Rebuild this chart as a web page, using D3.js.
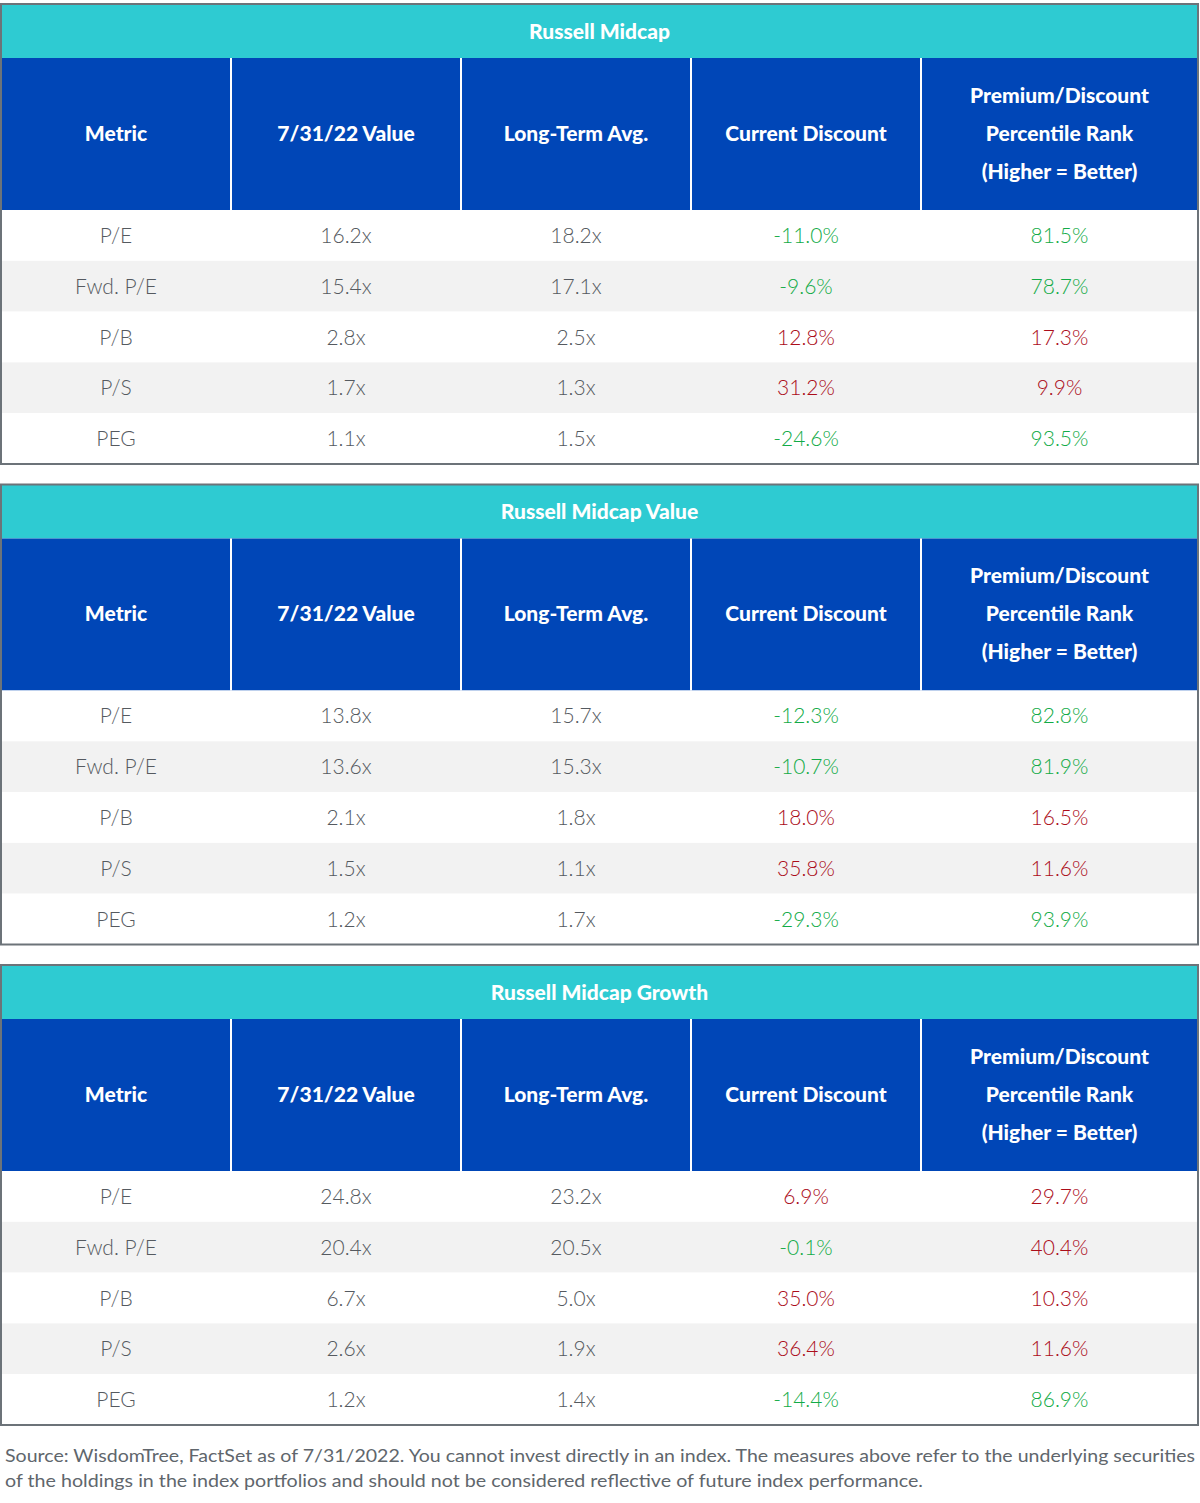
<!DOCTYPE html>
<html>
<head>
<meta charset="utf-8">
<title>Russell Midcap valuations</title>
<style>
  body { margin: 0; background: #fff; }
  svg { display: block; font-family: Lato, "Noto Sans", sans-serif; }
</style>
</head>
<body>
<script src="https://cdn.jsdelivr.net/npm/d3@7"></script>
<script>
  // data
  var tableTitles = ["Russell Midcap", "Russell Midcap Value", "Russell Midcap Growth"];
  var columns = ["Metric", "7/31/22 Value", "Long-Term Avg.", "Current Discount",
                 "Premium/Discount|Percentile Rank|(Higher = Better)"];
  var metrics = ["P/E", "Fwd. P/E", "P/B", "P/S", "PEG"];

  var midcapValue    = [16.2, 15.4, 2.8, 1.7, 1.1];
  var midcapAvg      = [18.2, 17.1, 2.5, 1.3, 1.5];
  var midcapDisc     = [-11.0, -9.6, 12.8, 31.2, -24.6];
  var midcapRank     = [81.5, 78.7, 17.3, 9.9, 93.5];

  var valueValue     = [13.8, 13.6, 2.1, 1.5, 1.2];
  var valueAvg       = [15.7, 15.3, 1.8, 1.1, 1.7];
  var valueDisc      = [-12.3, -10.7, 18.0, 35.8, -29.3];
  var valueRank      = [82.8, 81.9, 16.5, 11.6, 93.9];

  var growthValue    = [24.8, 20.4, 6.7, 2.6, 1.2];
  var growthAvg      = [23.2, 20.5, 5.0, 1.9, 1.4];
  var growthDisc     = [6.9, -0.1, 35.0, 36.4, -14.4];
  var growthRank     = [29.7, 40.4, 10.3, 11.6, 86.9];

  var footnote = [
    "Source: WisdomTree, FactSet as of 7/31/2022. You cannot invest directly in an index.  The measures above refer to the underlying securities",
    "of the holdings in the index portfolios and should not be considered reflective of future index performance."
  ];

  var tables = [
    { title: tableTitles[0], value: midcapValue, avg: midcapAvg, disc: midcapDisc, rank: midcapRank },
    { title: tableTitles[1], value: valueValue,  avg: valueAvg,  disc: valueDisc,  rank: valueRank },
    { title: tableTitles[2], value: growthValue, avg: growthAvg, disc: growthDisc, rank: growthRank }
  ];

  // layout
  var width = 1200, height = 1503;
  var left = 1, right = 1198;
  var titleH = 54, headH = 152, rowH = 50.8;
  var tableH = titleH + headH + rowH * metrics.length;
  var teal = "#2ecbd2", blue = "#0046b7", stripe = "#f2f2f2",
      textGray = "#555a60", green = "#12ab47", red = "#ab0d1a", border = "#6c7379";

  var svg = d3.select("body").append("svg")
      .attr("width", width)
      .attr("height", height);

  // column edges
  var colEdges = [left, 231, 461, 691, 921, right];
  var colX = d3.scaleOrdinal().domain(d3.range(5)).range(colEdges.slice(0, 5));
  var colW = function(i) { return colEdges[i + 1] - colEdges[i]; };
  var colMid = function(i) { return colX(i) + colW(i) / 2; };

  var tableY = d3.scaleLinear().domain([0, 2]).range([4, 965]);
  var rowY = d3.scaleBand().domain(d3.range(metrics.length)).range([titleH + headH, tableH]);

  function fmtX(v) { return v.toFixed(1) + "x"; }
  function fmtP(v) { return v.toFixed(1) + "%"; }

  var g = svg.selectAll("g.table")
      .data(tables)
      .enter()
      .append("g")
      .attr("class", "table")
      .attr("transform", function(d, i) { return "translate(0," + tableY(i) + ")"; });

  // title bar
  g.append("rect")
      .attr("x", left).attr("y", 0)
      .attr("width", right - left).attr("height", titleH)
      .attr("fill", teal);
  g.append("text")
      .attr("x", (left + right) / 2)
      .attr("y", titleH / 2 - 1)
      .attr("text-anchor", "middle")
      .attr("dominant-baseline", "central")
      .attr("fill", "#fff")
      .attr("font-weight", 900)
      .attr("font-size", 21)
      .text(function(d) { return d.title; });

  // header
  g.append("rect")
      .attr("x", left).attr("y", titleH)
      .attr("width", right - left).attr("height", headH)
      .attr("fill", blue);

  g.each(function(t) {
    var tg = d3.select(this);

    // row stripes
    tg.selectAll("rect.row")
        .data(metrics)
        .enter()
        .append("rect")
        .attr("class", "row")
        .attr("x", left)
        .attr("y", function(d, i) { return rowY(i); })
        .attr("width", right - left)
        .attr("height", rowY.bandwidth())
        .attr("fill", function(d, i) { return i % 2 ? stripe : "#fff"; });

    // header dividers
    tg.selectAll("line.div")
        .data(colEdges.slice(1, 5))
        .enter()
        .append("line")
        .attr("class", "div")
        .attr("x1", function(d) { return d; })
        .attr("x2", function(d) { return d; })
        .attr("y1", titleH)
        .attr("y2", titleH + headH)
        .attr("stroke", "#fff")
        .attr("stroke-width", 2);

    // header labels
    columns.forEach(function(c, i) {
      var lines = c.split("|");
      var txt = tg.append("text")
          .attr("text-anchor", "middle")
          .attr("fill", "#fff")
          .attr("font-weight", 900)
          .attr("font-size", 21);
      lines.forEach(function(l, k) {
        txt.append("tspan")
            .attr("x", colMid(i))
            .attr("y", titleH + headH / 2 - 2 + (k - (lines.length - 1) / 2) * 38)
            .attr("dominant-baseline", "central")
            .text(l);
      });
    });

    // cells
    var rows = metrics.map(function(m, i) {
      return [
        { text: m, color: textGray },
        { text: fmtX(t.value[i]), color: textGray },
        { text: fmtX(t.avg[i]), color: textGray },
        { text: fmtP(t.disc[i]), color: t.disc[i] < 0 ? green : red },
        { text: fmtP(t.rank[i]), color: t.rank[i] >= 50 ? green : red }
      ];
    });

    var rg = tg.selectAll("g.r")
        .data(rows)
        .enter()
        .append("g")
        .attr("class", "r")
        .attr("transform", function(d, i) { return "translate(0," + (rowY(i) + rowY.bandwidth() / 2) + ")"; });

    rg.selectAll("text")
        .data(function(d) { return d; })
        .enter()
        .append("text")
        .attr("x", function(d, i) { return colMid(i); })
        .attr("y", -1)
        .attr("text-anchor", "middle")
        .attr("dominant-baseline", "central")
        .attr("font-size", 21)
        .attr("font-weight", 300)
        .attr("fill", function(d) { return d.color; })
        .text(function(d) { return d.text; });

    // outer border
    tg.append("rect")
        .attr("x", left).attr("y", 0)
        .attr("width", right - left).attr("height", tableH)
        .attr("fill", "none")
        .attr("stroke", border)
        .attr("stroke-width", 2);
  });

  // footnote
  svg.selectAll("text.note")
      .data(footnote)
      .enter()
      .append("text")
      .attr("class", "note")
      .attr("x", 5)
      .attr("y", function(d, i) { return 1462 + i * 25; })
      .attr("font-size", 18)
      .attr("fill", "#60666c")
      .attr("textLength", function(d, i) { return i === 0 ? 1190 : 918; })
      .attr("lengthAdjust", "spacingAndGlyphs")
      .text(function(d) { return d; });
</script>
</body>
</html>
